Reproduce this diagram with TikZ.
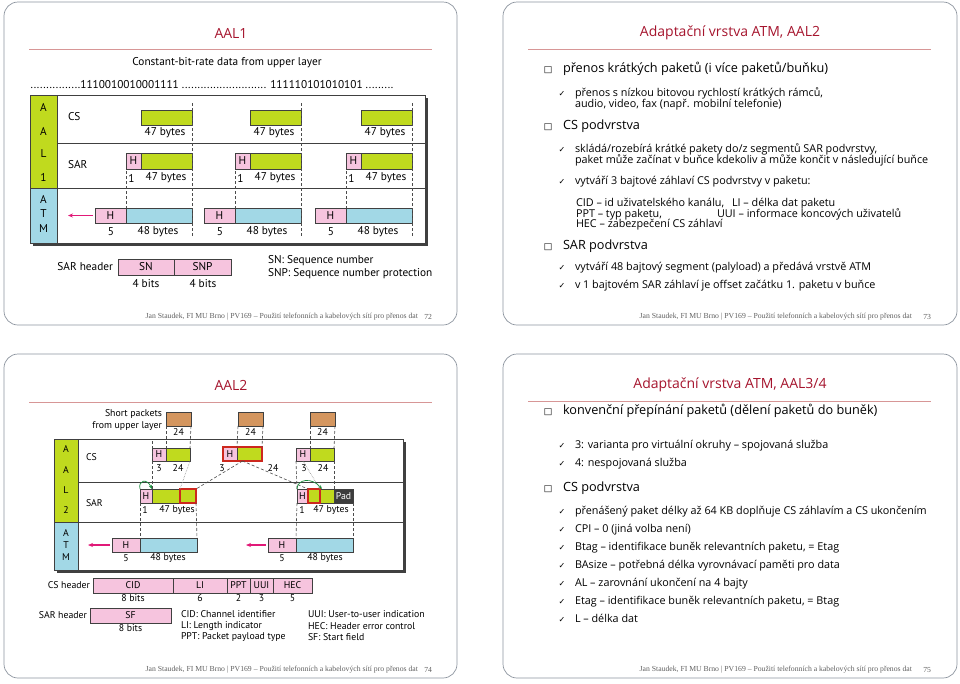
\documentclass[tikz,border=0pt]{standalone}
\usepackage{fontspec}
\setmainfont{PT Sans}
\newfontfamily\bodyfont{Open Sans}
\newfontfamily\symfont{DejaVu Sans}
\newfontfamily\footfont{Liberation Serif}
\usetikzlibrary{positioning,arrows.meta}

\definecolor{framegray}{RGB}{140,148,158}
\definecolor{titlered}{RGB}{165,20,45}
\definecolor{rulered}{RGB}{215,150,150}
\definecolor{aalgreen}{RGB}{192,218,30}
\definecolor{atmblue}{RGB}{162,216,230}
\definecolor{hdpink}{RGB}{246,196,222}
\definecolor{pktorange}{RGB}{212,150,95}
\definecolor{markred}{RGB}{205,40,30}
\definecolor{sendpink}{RGB}{225,25,120}
\definecolor{sfgreen}{RGB}{25,140,60}
\definecolor{padgray}{RGB}{60,60,60}
\definecolor{footgray}{RGB}{95,95,95}

\begin{document}
\begin{tikzpicture}[x=1pt, y=-1pt, every node/.append style={inner sep=0pt, outer sep=0pt},
  slide/.style={draw=framegray, line width=0.7pt, rounded corners=14pt},
  ttl/.style={text=titlered, font=\bodyfont\fontsize{14}{16}\selectfont},
  hrule/.style={draw=rulered, line width=0.8pt},
  foot/.style={text=footgray, font=\footfont\fontsize{7.7}{9}\selectfont, anchor=east},
  cell/.style={draw=black!75, line width=0.5pt, anchor=north west},
  redcell/.style={cell, fill=aalgreen, draw=markred, line width=1.4pt},
  guide/.style={draw=black!70, line width=0.6pt, dash pattern=on 3pt off 2pt},
  send/.style={draw=sendpink, line width=1.2pt, -{Stealth[length=5pt,width=4pt]}},
  sfloop/.style={draw=sfgreen, line width=0.7pt, -{Stealth[length=4pt,width=3pt]}},
  sq/.style={font=\symfont\fontsize{9}{10}\selectfont},
  chk/.style={font=\symfont\fontsize{8}{9}\selectfont},
  itA/.style={anchor=west, text height=1.25ex, text depth=0.25ex, font=\bodyfont\fontsize{12.7}{14}\selectfont},
  itB/.style={anchor=west, text height=1.25ex, text depth=0.25ex, font=\bodyfont\fontsize{10.8}{12}\selectfont}]
\useasboundingbox (0,0) rectangle (960,683);

% ---------- slide 72: AAL1
\draw[slide] (4,2) rectangle (457,325);
\draw[hrule] (29,49) -- (432,49);
\node[ttl] (ttl1) at (231,33) {AAL1};
\node[foot] (pg1) at (432,317) {72};
\node[foot] (ft1) at (418,317) {Jan Staudek, FI MU Brno \textbar{} PV169 – Použití telefonních a kabelových sítí pro přenos dat};

\begin{scope}[font=\fontsize{11.3}{13}\selectfont]
\node (cbr) at (227,63) {Constant-bit-rate data from upper layer};
\node (bits) at (212,85) {................1110010010001111 ........................... 111110101010101 .........};
\fill[black!75] (32.5,97.5) rectangle (427.5,245.5);
\fill[white] (30,95) rectangle (425,243);
\fill[aalgreen] (30,95) rectangle (57,188);
\fill[atmblue] (30,188) rectangle (57,243);
\draw[black!75, line width=0.6pt] (57,95) -- (57,243) (57,143) -- (425,143) (30,188) -- (425,188);
\draw[black!75, line width=0.6pt] (30,95) rectangle (425,243);
\foreach \c/\y [count=\n] in {A/107,A/131,L/154,1/177,A/199,T/214,M/229}
  \node (ly\n) at (43.5,\y) {\c};
\node[anchor=west] (lcs) at (68,117) {CS};
\node[anchor=west] (lsar) at (68,165) {SAR};
\foreach \i/\x in {1/0,2/109,3/220} {
  \node[cell, fill=aalgreen, minimum width=51pt, minimum height=15pt] (cs\i) at (141+\x,110) {};
  \node (csl\i) at (165+\x,133) {47 bytes};
  \node[cell, fill=hdpink, minimum width=15pt, minimum height=16pt] (sh\i) at (126+\x,153) {H};
  \node[cell, fill=aalgreen, minimum width=51pt, minimum height=16pt] (sg\i) at (141+\x,153) {};
  \node (sn\i) at (131.5+\x,178) {1};
  \node (sl\i) at (166+\x,178) {47 bytes};
  \node[cell, fill=hdpink, minimum width=31pt, minimum height=15pt] (ah\i) at (95+\x,208) {H};
  \node[cell, fill=atmblue, minimum width=66pt, minimum height=15pt] (ab\i) at (126+\x,208) {};
  \node (an\i) at (111+\x,232) {5};
  \node (al\i) at (158+\x,232) {48 bytes};
  \draw[guide] ([yshift=7pt]cs\i.north east) -- ([yshift=-14pt]ab\i.south east);
  \draw[guide] ([yshift=-2pt]sh\i.south west) -- (ah\i.north east);
}
\coordinate (out1) at (68,215.5);
\draw[send] ([xshift=-2pt]ah1.west) -- (out1);
% SAR header
\node[cell, fill=hdpink, minimum width=56pt, minimum height=16pt] (sn) at (118,259) {SN};
\node[cell, fill=hdpink, minimum width=57pt, minimum height=16pt, right=0pt of sn] (snp) {SNP};
\node[left=5pt of sn] (sarh) {SAR header};
\node (snb) at (146,284) {4 bits};
\node (snpb) at (203,284) {4 bits};
\node[anchor=west] (lgsn) at (268,261) {SN: Sequence number};
\node[anchor=west] (lgsnp) at (268,274) {SNP: Sequence number protection};
\end{scope}

% ---------- slide 73: AAL2 text
\draw[slide] (503,2) rectangle (957,325);
\draw[hrule] (528,49) -- (931,49);
\node[ttl] (ttl2) at (730,33) {Adaptační vrstva ATM, AAL2};
\node[foot] (pg2) at (931,317) {73};
\node[foot] (ft2) at (912,317) {Jan Staudek, FI MU Brno \textbar{} PV169 – Použití telefonních a kabelových sítí pro přenos dat};
\node[sq] (q2a) at (548,70) {□};
\node[itA] (t2a) at (563,70) {přenos krátkých paketů (i více paketů/buňku)};
\node[chk] (k2a) at (562,94) {✓};
\node[itB] (t2b) at (575,94) {přenos s nízkou bitovou rychlostí krátkých rámců,};
\node[itB] (t2c) at (575,104.5) {audio, video, fax (např. mobilní telefonie)};
\node[sq] (q2b) at (548,127) {□};
\node[itA] (t2d) at (563,127) {CS podvrstva};
\node[chk] (k2b) at (562,150) {✓};
\node[itB] (t2e) at (575,150) {skládá/rozebírá krátké pakety do/z segmentů SAR podvrstvy,};
\node[itB] (t2f) at (575,161) {paket může začínat v buňce kdekoliv a může končit v následující buňce};
\node[chk] (k2c) at (562,182) {✓};
\node[itB] (t2g) at (575,182) {vytváří 3 bajtové záhlaví CS podvrstvy v paketu:};
\node[itB] (t2h) at (576,204) {CID – id uživatelského kanálu,};
\node[itB] (t2i) at (732,204) {LI – délka dat paketu};
\node[itB] (t2j) at (576,214.5) {PPT – typ paketu,};
\node[itB] (t2k) at (717,214.5) {UUI – informace koncových uživatelů};
\node[itB] (t2l) at (576,225) {HEC – zabezpečení CS záhlaví};
\node[sq] (q2c) at (548,247) {□};
\node[itA] (t2m) at (563,247) {SAR podvrstva};
\node[chk] (k2d) at (562,268) {✓};
\node[itB] (t2n) at (575,268) {vytváří 48 bajtový segment (palyload) a předává vrstvě ATM};
\node[chk] (k2e) at (562,286) {✓};
\node[itB] (t2o) at (575,286) {v 1 bajtovém SAR záhlaví je offset začátku 1. paketu v buňce};

% ---------- slide 74: AAL2
\draw[slide] (4,354) rectangle (457,678);
\draw[hrule] (29,402) -- (432,402);
\node[ttl] (ttl3) at (231,385) {AAL2};
\node[foot] (pg3) at (432,670) {74};
\node[foot] (ft3) at (418,670) {Jan Staudek, FI MU Brno \textbar{} PV169 – Použití telefonních a kabelových sítí pro přenos dat};

\begin{scope}[font=\fontsize{9.8}{11}\selectfont]
\node[anchor=east] (sp1) at (162,414) {Short packets};
\node[anchor=east] (sp2) at (162,426) {from upper layer};
\fill[black!75] (56.5,441.5) rectangle (405.5,572.5);
\fill[white] (54,439) rectangle (403,570);
\fill[aalgreen] (54,439) rectangle (78,522);
\fill[atmblue] (54,522) rectangle (78,570);
\draw[black!75, line width=0.6pt] (78,439) -- (78,570) (78,482) -- (403,482) (54,522) -- (403,522);
\draw[black!75, line width=0.6pt] (54,439) rectangle (403,570);
\foreach \c/\y [count=\n] in {A/449,A/470,L/490,2/510,A/533,T/545,M/557}
  \node (lz\n) at (66,\y) {\c};
\node[anchor=west] (mcs) at (86,457) {CS};
\node[anchor=west] (msar) at (86,503) {SAR};
% short packets
\foreach \i/\x in {1/166,2/238,3/310} {
  \node[cell, fill=pktorange, minimum width=25pt, minimum height=14pt] (op\i) at (\x,412) {};
  \node[below=3pt of op\i] (opl\i) {24};
}
% CS
\node[cell, fill=hdpink, minimum width=14pt, minimum height=13pt] (ch1) at (152,448) {H};
\node[cell, fill=aalgreen, minimum width=24pt, minimum height=13pt] (cg1) at (166,448) {};
\node[cell, fill=hdpink, minimum width=14pt, minimum height=14pt] (ch2) at (223,447) {H};
\node[cell, fill=aalgreen, minimum width=25pt, minimum height=14pt] (cg2) at (237,447) {};
\node[cell, draw=markred, line width=1.4pt, minimum width=39pt, minimum height=14pt] (c2o) at (223,447) {};
\node[cell, fill=hdpink, minimum width=14pt, minimum height=13pt] (ch3) at (296,448) {H};
\node[cell, fill=aalgreen, minimum width=24pt, minimum height=13pt] (cg3) at (310,448) {};
\node (c1a) at (159,468) {3};
\node (c1b) at (178,468) {24};
\node (c2a) at (222,468) {3};
\node (c2b) at (273,468) {24};
\node (c3a) at (304,468) {3};
\node (c3b) at (323,468) {24};
% SAR
\node[cell, fill=hdpink, minimum width=12pt, minimum height=14pt] (s1h) at (140,489) {H};
\node[cell, fill=aalgreen, minimum width=28pt, minimum height=14pt] (s1g) at (152,489) {};
\node[redcell, minimum width=16pt, minimum height=14pt] (s1r) at (180,489) {};
\node[cell, fill=hdpink, minimum width=11pt, minimum height=14pt] (s3h) at (297,489) {H};
\node[cell, fill=aalgreen, minimum width=14pt, minimum height=14pt] (s3g) at (320,489) {};
\node[cell, fill=padgray, text=white, minimum width=19pt, minimum height=14pt] (s3p) at (334,489) {Pad};
\node[redcell, minimum width=12pt, minimum height=14pt] (s3r) at (308,489) {};
\node (s1a) at (145,510) {1};
\node (s1b) at (177,510) {47 bytes};
\node (s3a) at (302,510) {1};
\node (s3b) at (331,510) {47 bytes};
% ATM
\node[cell, fill=hdpink, minimum width=28pt, minimum height=14pt] (a1h) at (112,538) {H};
\node[cell, fill=atmblue, minimum width=57pt, minimum height=14pt] (a1b) at (140,538) {};
\node[cell, fill=hdpink, minimum width=28pt, minimum height=14pt] (a2h) at (268,538) {H};
\node[cell, fill=atmblue, minimum width=57pt, minimum height=14pt] (a2b) at (296,538) {};
\node (a1a) at (126,558) {5};
\node (a1c) at (168,558) {48 bytes};
\node (a2a) at (282,558) {5};
\node (a2c) at (325,558) {48 bytes};
\coordinate (out2) at (88,545);
\coordinate (out3) at (246,545);
\draw[send] ([xshift=-2pt]a1h.west) -- (out2);
\draw[send] ([xshift=-2pt]a2h.west) -- (out3);
% guides
\draw[guide] (op1.south west) -- (cg1.north west);
\draw[guide] (op1.south east) -- (cg1.north east);
\draw[guide] (op2.south west) -- (cg2.north west);
\draw[guide] (op2.south east) -- (cg2.north east);
\draw[guide] (op3.south west) -- (cg3.north west);
\draw[guide] (op3.south east) -- (cg3.north east);
\draw[guide] ([yshift=7pt]ch1.north west) -- (s1g.north west);
\draw[guide] (ch3.south west) -- (s3h.north west);
\draw[guide] (cg3.south east) -- (s3g.north east);
\draw[guide] (s1h.south west) -- (a1b.north west);
\draw[guide] (s1r.south east) -- (a1b.north east);
\draw[guide] (s3h.south west) -- (a2b.north west);
\draw[guide] (s3p.south east) -- (a2b.north east);
\draw[black!45, densely dotted, line width=0.6pt] (cg1.south east) -- (s1r.north west);
\draw[black!45, densely dotted, line width=0.6pt] (ch3.south) -- (s3g.north west);
\draw[guide] (c2o.south) -- (s1r.north east);
\draw[guide] (c2o.south) -- (s3r.north west);
\draw[sfloop] (s1h.north west) .. controls (138,480) and (147,478) .. (s1g.north west);
\draw[sfloop] (s3h.north west) .. controls (297,479) and (312,477) .. ([xshift=2pt]s3g.north west);
% headers
\node[cell, fill=hdpink, minimum width=80pt, minimum height=15pt] (cid) at (93,578) {CID};
\node[cell, fill=hdpink, minimum width=54pt, minimum height=15pt, right=0pt of cid] (li) {LI};
\node[cell, fill=hdpink, minimum width=23pt, minimum height=15pt, right=0pt of li] (ppt) {PPT};
\node[cell, fill=hdpink, minimum width=23pt, minimum height=15pt, right=0pt of ppt] (uui) {UUI};
\node[cell, fill=hdpink, minimum width=39pt, minimum height=15pt, right=0pt of uui] (hec) {HEC};
\node[left=3pt of cid] (csh) {CS header};
\node[below=2pt of cid] (cidb) {8 bits};
\node[below=2pt of li] (lib) {6};
\node[below=2pt of ppt] (pptb) {2};
\node[below=2pt of uui] (uuib) {3};
\node[below=2pt of hec] (hecb) {5};
\node[cell, fill=hdpink, minimum width=81pt, minimum height=15pt] (sf) at (90,608) {SF};
\node[left=3pt of sf] (sarh2) {SAR header};
\node[below=2pt of sf] (sfb) {8 bits};
\node[anchor=west] (lg1) at (181,614) {CID: Channel identifier};
\node[anchor=west] (lg2) at (181,626) {LI: Length indicator};
\node[anchor=west] (lg3) at (181,637) {PPT: Packet payload type};
\node[anchor=west] (lg4) at (308,614) {UUI: User-to-user indication};
\node[anchor=west] (lg5) at (308,626) {HEC: Header error control};
\node[anchor=west] (lg6) at (308,637) {SF: Start field};
\end{scope}

% ---------- slide 75: AAL3/4 text
\draw[slide] (503,354) rectangle (957,678);
\draw[hrule] (528,401) -- (931,401);
\node[ttl] (ttl4) at (730,385) {Adaptační vrstva ATM, AAL3/4};
\node[foot] (pg4) at (931,670) {75};
\node[foot] (ft4) at (912,670) {Jan Staudek, FI MU Brno \textbar{} PV169 – Použití telefonních a kabelových sítí pro přenos dat};
\node[sq] (q4a) at (548,412) {□};
\node[itA] (t4a) at (563,412) {konvenční přepínání paketů (dělení paketů do buněk)};
\node[chk] (k4a) at (562,446) {✓};
\node[itB] (t4b) at (575,446) {3: varianta pro virtuální okruhy – spojovaná služba};
\node[chk] (k4b) at (562,464) {✓};
\node[itB] (t4c) at (575,464) {4: nespojovaná služba};
\node[sq] (q4b) at (548,489) {□};
\node[itA] (t4d) at (563,489) {CS podvrstva};
\foreach \t [count=\n] in {přenášený paket délky až 64 KB doplňuje CS záhlavím a CS ukončením,
    CPI – 0 (jiná volba není),
    {Btag – identifikace buněk relevantních paketu, = Etag},
    BAsize – potřebná délka vyrovnávací paměti pro data,
    AL – zarovnání ukončení na 4 bajty,
    {Etag – identifikace buněk relevantních paketu, = Btag},
    L – délka dat} {
  \node[chk] (k4l\n) at (562,494+18*\n) {✓};
  \node[itB] (t4l\n) at (575,494+18*\n) {\t};
}
\end{tikzpicture}
\end{document}
